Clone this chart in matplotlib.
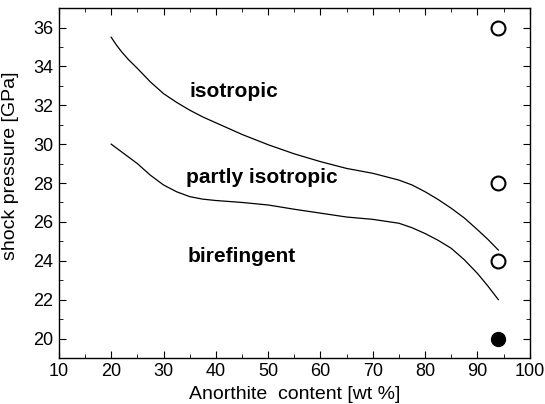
import matplotlib.pyplot as plt
from matplotlib.ticker import MultipleLocator

plt.rcParams['font.family'] = ['Liberation Sans', 'DejaVu Sans']

# boundary curves
upper_x = [20, 21, 22, 23.3, 25, 27.5, 30, 32.5, 35, 37.5, 40, 45, 50, 55, 60, 65, 70, 75, 77.5, 80, 82.5, 85, 87.5, 90, 92, 94]
upper_y = [35.5, 35.1, 34.75, 34.35, 33.9, 33.2, 32.6, 32.15, 31.75, 31.4, 31.1, 30.5, 29.97, 29.5, 29.1, 28.75, 28.5, 28.15, 27.9, 27.55, 27.15, 26.7, 26.2, 25.6, 25.1, 24.55]
lower_x = [20, 22.5, 25, 27.5, 30, 32.5, 35, 37.5, 40, 45, 50, 55, 60, 65, 70, 75, 77.5, 80, 82.5, 85, 87.5, 90, 92, 94]
lower_y = [30.0, 29.5, 29.0, 28.4, 27.9, 27.55, 27.3, 27.17, 27.1, 27.0, 26.87, 26.65, 26.45, 26.25, 26.13, 25.93, 25.7, 25.4, 25.05, 24.64, 24.05, 23.35, 22.7, 22.0]

# measured samples at An94
open_x = [94, 94, 94]
open_y = [36, 28, 24]
filled_x = [94]
filled_y = [20]

fig = plt.figure(figsize=(5.45, 4.04), dpi=100)
ax = fig.add_axes([0.108, 0.114, 0.864, 0.866])

ax.plot(upper_x, upper_y, color='black', lw=0.9)
ax.plot(lower_x, lower_y, color='black', lw=0.9)
ax.plot(open_x, open_y, 'o', ms=10, mfc='white', mec='black', mew=1.5)
ax.plot(filled_x, filled_y, 'o', ms=10, mfc='black', mec='black')

ax.text(43.4, 32.7, 'isotropic', fontsize=15, fontweight='bold', ha='center', va='center')
ax.text(48.7, 28.3, 'partly isotropic', fontsize=15, fontweight='bold', ha='center', va='center')
ax.text(44.9, 24.2, 'birefingent', fontsize=15, fontweight='bold', ha='center', va='center')

ax.set_xlim(10, 100)
ax.set_ylim(19, 37)
ax.xaxis.set_major_locator(MultipleLocator(10))
ax.xaxis.set_minor_locator(MultipleLocator(5))
ax.yaxis.set_major_locator(MultipleLocator(2))
ax.yaxis.set_minor_locator(MultipleLocator(1))
ax.tick_params(which='both', direction='in', top=True, right=True, labelsize=13)
ax.tick_params(which='major', length=5, pad=4)
ax.tick_params(which='minor', length=3)
for s in ax.spines.values():
    s.set_linewidth(1.0)

ax.set_xlabel('Anorthite  content [wt %]', fontsize=14, labelpad=4)
ax.set_ylabel('shock pressure [GPa]', fontsize=14)
ax.yaxis.set_label_coords(-0.085, 0.55)

fig.savefig('out.png', dpi=100)
